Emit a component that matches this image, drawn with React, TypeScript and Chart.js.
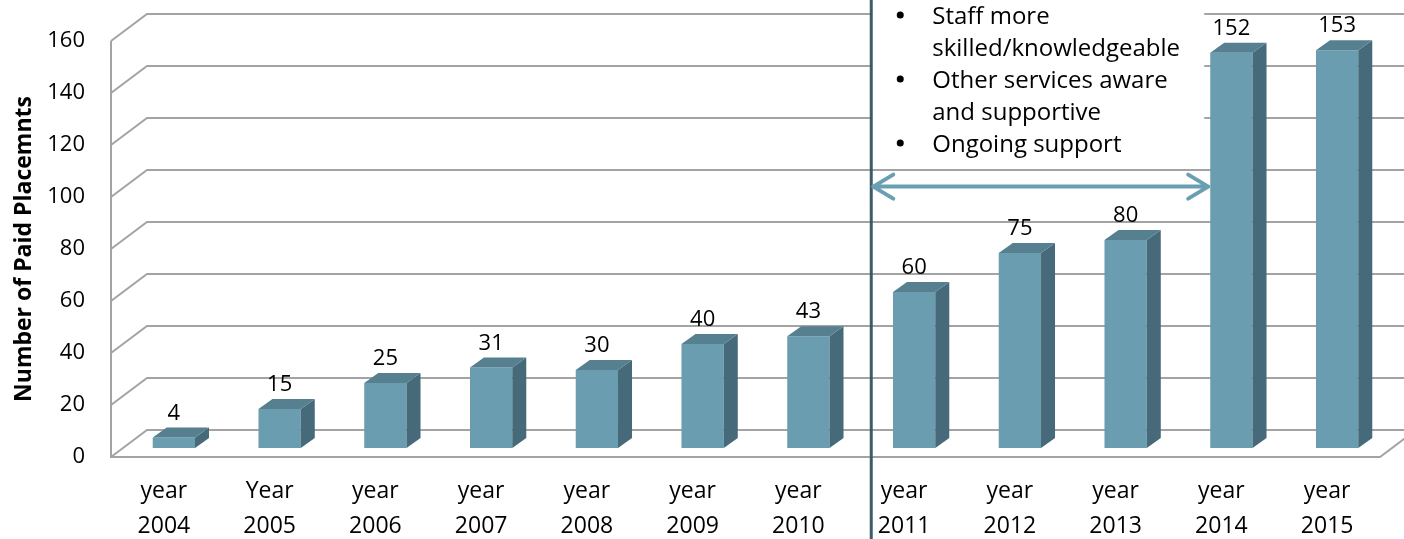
import React, { useEffect, useRef } from 'react';
import { Chart, registerables } from 'chart.js';

Chart.register(...registerables);

const categories: string[][] = [
  ['year', '2004'], ['Year', '2005'], ['year', '2006'], ['year', '2007'],
  ['year', '2008'], ['year', '2009'], ['year', '2010'], ['year', '2011'],
  ['year', '2012'], ['year', '2013'], ['year', '2014'], ['year', '2015'],
];
const values: number[] = [4, 15, 25, 31, 30, 40, 43, 60, 75, 80, 152, 153];
const yTicks: number[] = [0, 20, 40, 60, 80, 100, 120, 140, 160];
const yTitle = 'Number of Paid Placemnts';
const noteLines: { text: string; bullet: boolean }[] = [
  { text: 'Staff more', bullet: true },
  { text: 'skilled/knowledgeable', bullet: false },
  { text: 'Other services aware', bullet: true },
  { text: 'and supportive', bullet: false },
  { text: 'Ongoing support', bullet: true },
];
const arrowValue = 104;

const FONT = '"Open Sans", sans-serif';
const FRONT = '#6a9db0';
const SIDE = '#466a79';
const TOP = '#56808f';
const GRID = '#a3a3a3';
const WALL_DX = 36;
const WALL_DY = 27;
const BAR_DX = 10;
const BAR_DY = 9;
const DEPTH_DX = 14;
const DEPTH_DY = 10;

const threeD = {
  id: 'threeD',
  beforeDatasetsDraw(chart: any) {
    const { ctx, chartArea, scales } = chart;
    const ys = scales.y;
    const xs = scales.x;
    const { left, right } = chartArea;
    ctx.save();
    ctx.strokeStyle = GRID;
    ctx.lineWidth = 2;
    ctx.beginPath();
    for (const v of yTicks) {
      const y = ys.getPixelForValue(v);
      ctx.moveTo(left, y);
      ctx.lineTo(left + WALL_DX, y - WALL_DY);
      ctx.lineTo(right + WALL_DX, y - WALL_DY);
    }
    const y0 = ys.getPixelForValue(0);
    const yMax = ys.getPixelForValue(yTicks[yTicks.length - 1]);
    ctx.moveTo(left, yMax);
    ctx.lineTo(left, y0);
    ctx.lineTo(right, y0);
    ctx.lineTo(right + WALL_DX, y0 - WALL_DY);
    ctx.stroke();

    // note box
    const lineX = (xs.getPixelForValue(6) + xs.getPixelForValue(7)) / 2 + 20;
    const meta = chart.getDatasetMeta(0);
    const bar14 = meta.data[10];
    const boxRight = bar14.x - bar14.width / 2 + BAR_DX - 6;
    ctx.fillStyle = '#ffffff';
    ctx.fillRect(lineX + 1, 0, boxRight - lineX - 1, 165);
    ctx.fillStyle = '#000000';
    ctx.font = `24px ${FONT}`;
    ctx.textBaseline = 'alphabetic';
    ctx.textAlign = 'left';
    noteLines.forEach((l, i) => {
      const base = 24 + i * 32;
      if (l.bullet) {
        ctx.beginPath();
        ctx.arc(lineX + 29, base - 9, 3.5, 0, Math.PI * 2);
        ctx.fill();
      }
      ctx.fillText(l.text, lineX + 61, base);
    });

    // vertical divider
    ctx.strokeStyle = '#3d5c6b';
    ctx.lineWidth = 3;
    ctx.beginPath();
    ctx.moveTo(lineX, 0);
    ctx.lineTo(lineX, chart.height);
    ctx.stroke();
    ctx.restore();

    ctx.save();
    ctx.translate(BAR_DX, -BAR_DY);
  },
  afterDatasetsDraw(chart: any) {
    const { ctx } = chart;
    const meta = chart.getDatasetMeta(0);
    meta.data.forEach((el: any, i: number) => {
      const { x, y, base, width } = el.getProps(['x', 'y', 'base', 'width'], true);
      const x1 = x - width / 2;
      const x2 = x + width / 2;
      ctx.fillStyle = SIDE;
      ctx.beginPath();
      ctx.moveTo(x2, y);
      ctx.lineTo(x2 + DEPTH_DX, y - DEPTH_DY);
      ctx.lineTo(x2 + DEPTH_DX, base - DEPTH_DY);
      ctx.lineTo(x2, base);
      ctx.closePath();
      ctx.fill();
      ctx.fillStyle = TOP;
      ctx.beginPath();
      ctx.moveTo(x1, y);
      ctx.lineTo(x2, y);
      ctx.lineTo(x2 + DEPTH_DX, y - DEPTH_DY);
      ctx.lineTo(x1 + DEPTH_DX, y - DEPTH_DY);
      ctx.closePath();
      ctx.fill();
      ctx.fillStyle = '#000000';
      ctx.font = `22px ${FONT}`;
      ctx.textAlign = 'center';
      ctx.textBaseline = 'middle';
      ctx.fillText(String(values[i]), x, y - 24);
    });
    ctx.restore();

    // arrow
    const { scales } = chart;
    const xs = scales.x;
    const lineX = (xs.getPixelForValue(6) + xs.getPixelForValue(7)) / 2 + 20;
    const bar14 = meta.data[10];
    const endX = bar14.x - bar14.width / 2 + BAR_DX;
    const ay = scales.y.getPixelForValue(arrowValue);
    ctx.save();
    ctx.strokeStyle = '#6a9fb3';
    ctx.lineWidth = 4;
    ctx.lineCap = 'round';
    ctx.lineJoin = 'round';
    ctx.beginPath();
    ctx.moveTo(lineX + 2, ay);
    ctx.lineTo(endX - 2, ay);
    ctx.moveTo(lineX + 22, ay - 12);
    ctx.lineTo(lineX + 2, ay);
    ctx.lineTo(lineX + 22, ay + 12);
    ctx.moveTo(endX - 22, ay - 12);
    ctx.lineTo(endX - 2, ay);
    ctx.lineTo(endX - 22, ay + 12);
    ctx.stroke();
    ctx.restore();
  },
};

export default function App() {
  const ref = useRef<HTMLCanvasElement>(null);
  useEffect(() => {
    if (!ref.current) return;
    const chart = new Chart(ref.current, {
      type: 'bar',
      data: {
        labels: categories,
        datasets: [
          {
            data: values,
            backgroundColor: FRONT,
            borderWidth: 0,
            barPercentage: 0.4,
            categoryPercentage: 1,
            clip: false as any,
          },
        ],
      },
      options: {
        responsive: false,
        animation: false,
        devicePixelRatio: 1,
        layout: { padding: { top: 41, right: 24, left: 0, bottom: 0 } },
        plugins: { legend: { display: false }, tooltip: { enabled: false } },
        scales: {
          x: {
            grid: { display: false, drawTicks: false },
            border: { display: false },
            ticks: {
              color: '#000000',
              font: { family: FONT, size: 23, lineHeight: '35px' } as any,
              padding: 17,
              maxRotation: 0,
              autoSkip: false,
            },
            afterFit: (s: any) => { s.height = 82; },
          },
          y: {
            min: 0,
            max: 160,
            grid: { display: false, drawTicks: false },
            border: { display: false },
            ticks: {
              stepSize: 20,
              color: '#000000',
              font: { family: FONT, size: 22 },
              padding: 26,
            },
            title: {
              display: true,
              text: yTitle,
              color: '#000000',
              font: { family: FONT, size: 23, weight: 'bold' },
              padding: { top: 11, bottom: 0 },
            },
            afterFit: (s: any) => { s.width = 111; },
          },
        },
      },
      plugins: [threeD],
    });
    return () => chart.destroy();
  }, []);
  return (
    <div style={{ position: 'fixed', left: 0, top: 0, width: 1404, height: 539, background: '#fff' }}>
      <canvas ref={ref} width={1404} height={539} />
    </div>
  );
}
